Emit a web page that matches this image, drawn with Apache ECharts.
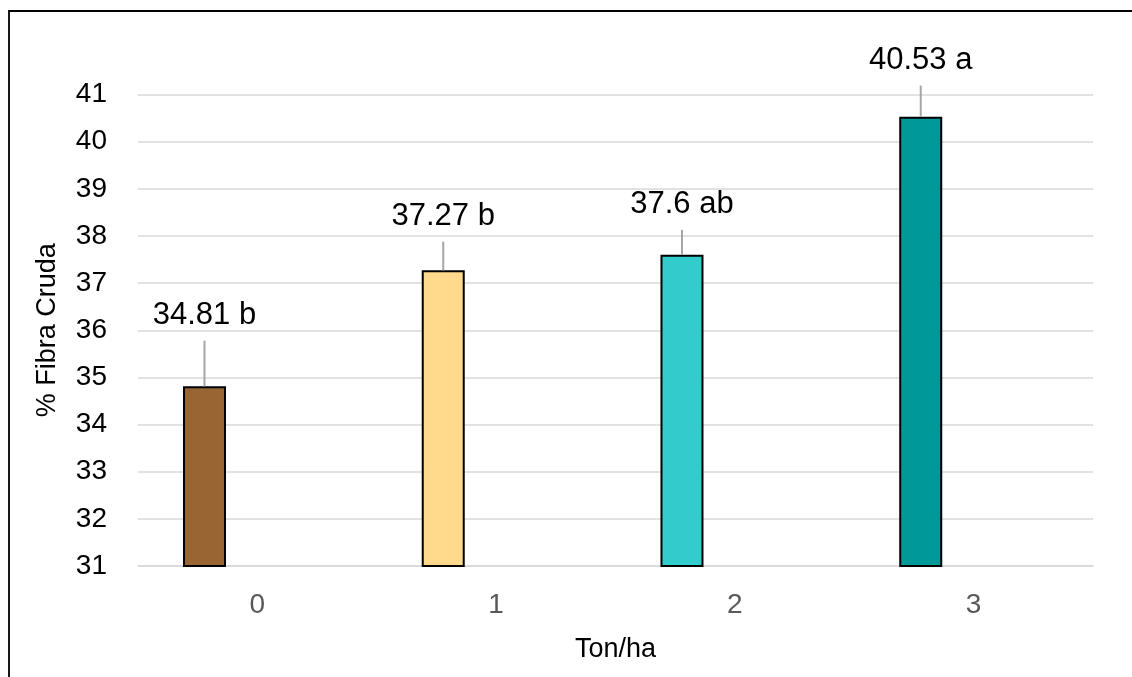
<!DOCTYPE html>
<html>
<head>
<meta charset="utf-8">
<script src="https://cdn.jsdelivr.net/npm/echarts@6/dist/echarts.min.js"></script>
<style>
  html, body { margin: 0; padding: 0; background: #ffffff; }
  #chart { width: 1132px; height: 677px; }
</style>
</head>
<body>
<div id="chart"></div>
<script>
// Crude fibre content by application rate
const categories = ['0', '1', '2', '3'];
const fibre = [34.81, 37.27, 37.6, 40.53];
const fibreErr = [0.97, 0.61, 0.53, 0.66];
const groups = ['b', 'b', 'ab', 'a'];
const barColors = ['#996633', '#FFD98C', '#33CCCC', '#009999'];
const yTicks = [31, 32, 33, 34, 35, 36, 37, 38, 39, 40, 41];

const FONT = 'Liberation Sans, Arial, sans-serif';
const BAR_WIDTH = 43;
const BAR_GAP = 1.46;           // gap to the (empty) second slot, as fraction of bar width
const BAR_SHIFT = -(BAR_WIDTH * (1 + BAR_GAP)) / 2;

const chart = echarts.init(document.getElementById('chart'));

chart.setOption({
  animation: false,
  backgroundColor: '#ffffff',
  graphic: [{
    type: 'rect',
    shape: { x: 9, y: 11, width: 1300, height: 900 },
    style: { fill: 'none', stroke: '#000000', lineWidth: 1.8 },
    silent: true
  }],
  grid: { left: 138, right: 39, top: 94.5, bottom: 111, containLabel: false },
  xAxis: {
    type: 'category',
    data: categories,
    name: 'Ton/ha',
    nameLocation: 'middle',
    nameGap: 70,
    nameTextStyle: { fontFamily: FONT, fontSize: 27, color: '#000000' },
    axisLine: { lineStyle: { color: '#d9d9d9', width: 1.5 } },
    axisTick: { show: false },
    axisLabel: { fontFamily: FONT, fontSize: 28, color: '#595959', margin: 25 }
  },
  yAxis: {
    type: 'value',
    min: yTicks[0],
    max: yTicks[yTicks.length - 1],
    interval: 1,
    name: '% Fibra Cruda',
    nameLocation: 'middle',
    nameGap: 77,
    nameRotate: 90,
    nameTextStyle: { fontFamily: FONT, fontSize: 27, color: '#000000' },
    axisLine: { show: false },
    axisTick: { show: false },
    axisLabel: { fontFamily: FONT, fontSize: 28, color: '#000000', margin: 31 },
    splitLine: { lineStyle: { color: '#d9d9d9', width: 1.5 } }
  },
  series: [
    {
      type: 'bar',
      barWidth: BAR_WIDTH,
      barGap: (BAR_GAP * 100) + '%',
      data: fibre.map((v, i) => ({
        value: v,
        itemStyle: { color: barColors[i], borderColor: '#000000', borderWidth: 2 }
      }))
    },
    {
      // empty companion slot
      type: 'bar',
      barWidth: BAR_WIDTH,
      data: categories.map(() => null)
    },
    {
      // upper error whisker with the value / group label on top
      type: 'custom',
      z: 5,
      data: fibre.map((v, i) => [i, v, fibreErr[i]]),
      renderItem: function (params, api) {
        const i = api.value(0);
        const v = api.value(1);
        const e = api.value(2);
        const base = api.coord([i, v]);
        const top = api.coord([i, v + e]);
        const x = base[0] + BAR_SHIFT;
        return {
          type: 'group',
          children: [
            {
              type: 'line',
              shape: { x1: x, y1: base[1], x2: x, y2: top[1] },
              style: { stroke: '#a6a6a6', lineWidth: 2 }
            },
            {
              type: 'text',
              x: x,
              y: top[1] - 10,
              style: {
                text: fibre[i] + ' ' + groups[i],
                fontFamily: FONT,
                fontSize: 31,
                fill: '#000000',
                align: 'center',
                verticalAlign: 'bottom'
              }
            }
          ]
        };
      }
    }
  ]
});
</script>
</body>
</html>
